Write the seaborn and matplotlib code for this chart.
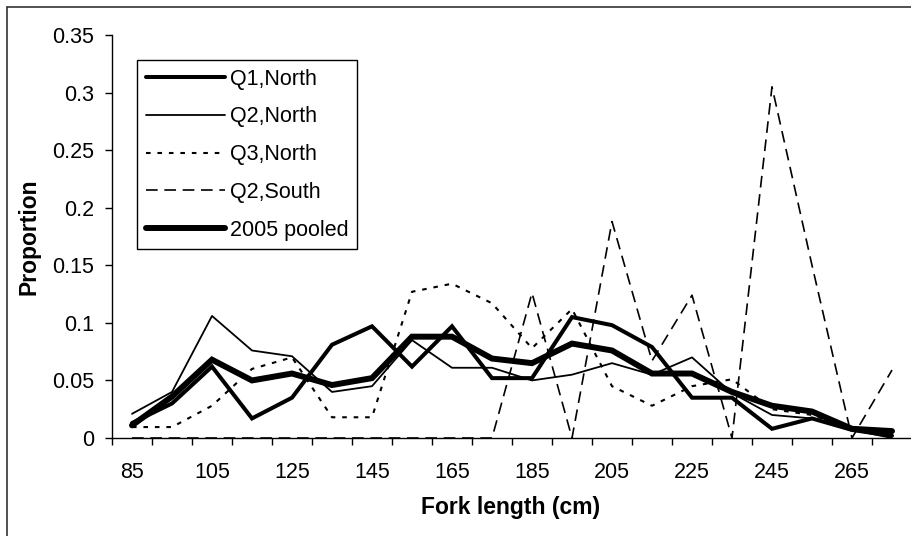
import matplotlib
matplotlib.use("Agg")
import matplotlib.pyplot as plt
from matplotlib.lines import Line2D
import seaborn as sns
import numpy as np

# ---- data ----
lengths = [85, 95, 105, 115, 125, 135, 145, 155, 165, 175,
           185, 195, 205, 215, 225, 235, 245, 255, 265, 275]
q1_north = [0.013, 0.030, 0.062, 0.017, 0.035, 0.081, 0.097, 0.062, 0.097, 0.052,
            0.052, 0.105, 0.098, 0.079, 0.035, 0.035, 0.008, 0.017, 0.007, 0.002]
q2_north = [0.021, 0.040, 0.106, 0.076, 0.071, 0.040, 0.045, 0.085, 0.061, 0.061,
            0.050, 0.055, 0.065, 0.055, 0.070, 0.039, 0.020, 0.017, 0.007, 0.000]
q3_north = [0.0095, 0.0095, 0.028, 0.060, 0.070, 0.018, 0.018, 0.127, 0.134, 0.117,
            0.078, 0.112, 0.045, 0.028, 0.045, 0.051, 0.025, 0.020, 0.008, 0.005]
q2_south = [0, 0, 0, 0, 0, 0, 0, 0, 0, 0,
            0.126, 0.0, 0.188, 0.067, 0.124, 0.0, 0.305, 0.150, 0.0, 0.059]
pooled_2005 = [0.011, 0.036, 0.068, 0.050, 0.056, 0.046, 0.052, 0.088, 0.088, 0.069,
               0.065, 0.082, 0.076, 0.056, 0.056, 0.040, 0.028, 0.023, 0.008, 0.006]

series_names = ["Q1,North", "Q2,North", "Q3,North", "Q2,South", "2005 pooled"]
x_tick_labels = [str(v) for v in lengths[::2]]
y_ticks = [0, 0.05, 0.1, 0.15, 0.2, 0.25, 0.3, 0.35]
y_tick_labels = ["0", "0.05", "0.1", "0.15", "0.2", "0.25", "0.3", "0.35"]

sns.set_theme(style="ticks")
plt.rcParams["font.family"] = ["Liberation Sans", "DejaVu Sans"]

W, H = 911, 536
fig = plt.figure(figsize=(W / 100, H / 100), dpi=100)
ax = fig.add_axes([112 / W, 1 - 438 / H, 800 / W, (438 - 35) / H])

styles = [
    dict(linewidth=2.9, linestyle="-", solid_capstyle="round", solid_joinstyle="miter"),
    dict(linewidth=1.3, linestyle="-"),
    dict(linewidth=1.5, linestyle=(0, (2.2, 3.3))),
    dict(linewidth=1.2, linestyle=(0, (7, 4))),
    dict(linewidth=4.3, linestyle="-", solid_capstyle="round", solid_joinstyle="miter"),
]
data = [q1_north, q2_north, q3_north, q2_south, pooled_2005]

for name, vals, st in zip(series_names, data, styles):
    sns.lineplot(x=lengths, y=vals, ax=ax, color="black", label=name, **st)

ax.set_xlim(80, 280)
ax.set_ylim(0, 0.35)
ax.set_yticks(y_ticks)
ax.set_yticklabels(y_tick_labels)
ax.set_xticks(lengths[::2])
ax.set_xticklabels(x_tick_labels)
ax.set_xticks(np.arange(80, 281, 10), minor=True)

ax.tick_params(axis="x", which="major", length=0, pad=17, labelsize=15.5, colors="black")
ax.tick_params(axis="x", which="minor", length=5, width=1, color="black", direction="out")
ax.tick_params(axis="y", which="major", length=5, width=1, pad=8, labelsize=15.5,
               colors="black", direction="out")

for s in ["top", "right"]:
    ax.spines[s].set_visible(False)
for s in ["left", "bottom"]:
    ax.spines[s].set_color("black")
    ax.spines[s].set_linewidth(1.0)

ax.set_xlabel("Fork length (cm)", fontsize=16.5, fontweight="bold", color="black")
ax.set_ylabel("Proportion", fontsize=16.5, fontweight="bold", color="black")
ax.xaxis.set_label_coords((511 - 112) / 800, (438 - 496) / 403)
ax.yaxis.set_label_coords((41 - 112) / 800, 0.5)

leg = ax.legend(loc="upper left", bbox_to_anchor=(137 / W, 1 - 60 / H),
                bbox_transform=fig.transFigure, frameon=True, fancybox=False,
                edgecolor="black", framealpha=1, handlelength=3.7,
                handletextpad=0.2, labelspacing=0.78, borderpad=0.4,
                borderaxespad=0, fontsize=15.5)
leg.get_frame().set_linewidth(1.0)
for t in leg.get_texts():
    t.set_color("black")

# outer chart frame (cropped on right and bottom)
fig.add_artist(Line2D([7 / W, 7 / W], [0, 1 - 7 / H], transform=fig.transFigure,
                      color="#333333", linewidth=1.2))
fig.add_artist(Line2D([7 / W, 1], [1 - 7 / H, 1 - 7 / H], transform=fig.transFigure,
                      color="#333333", linewidth=1.2))

fig.savefig("out.png", dpi=100, facecolor="white")
